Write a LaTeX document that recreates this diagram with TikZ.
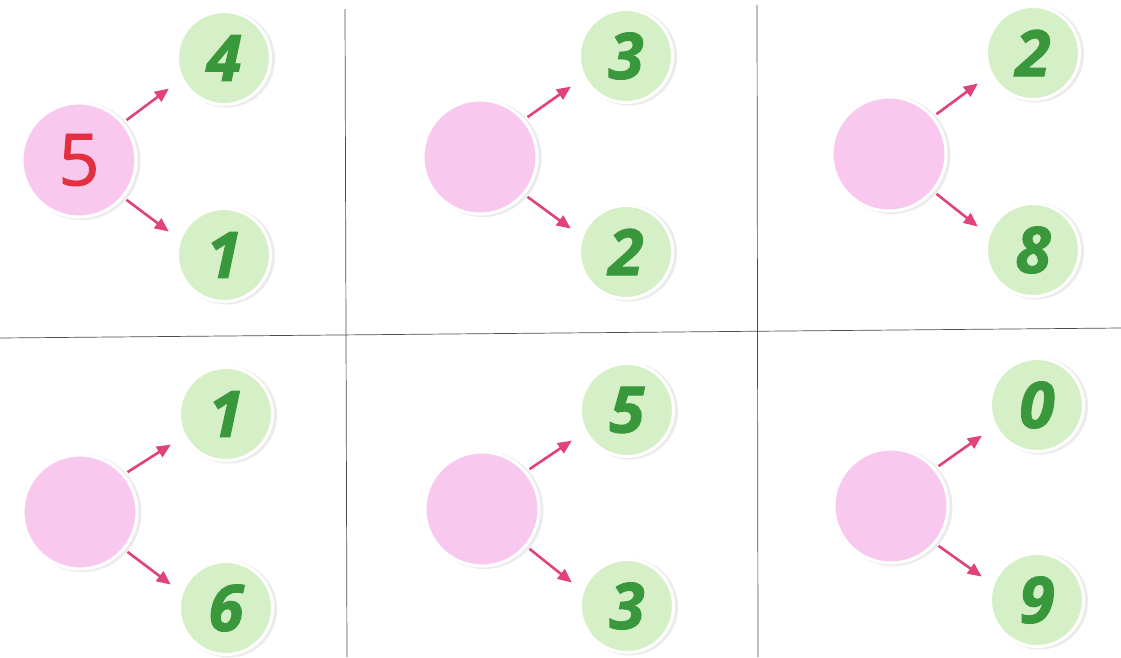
\documentclass[tikz,border=0pt]{standalone}
\usepackage{fontspec}
\setmainfont{Open Sans}
\newfontfamily\heavydigits[FakeBold=1.6]{Open Sans Bold Italic}
\newfontfamily\reddigit[FakeBold=1.2]{Open Sans}
\usetikzlibrary{arrows.meta,calc}
\definecolor{pinkfill}{HTML}{F9C8EE}
\definecolor{greenfill}{HTML}{D5EFC6}
\definecolor{greentext}{HTML}{3A983C}
\definecolor{arrowpink}{HTML}{E0427C}
\definecolor{redtext}{HTML}{E3303F}
\tikzset{
  pinkball/.style={circle, fill=pinkfill, draw=white, line width=3pt, minimum size=114pt, inner sep=0pt},
  greenball/.style={circle, fill=greenfill, draw=white, line width=3pt, minimum size=93pt, inner sep=0pt,
    font=\fontsize{64}{64}\heavydigits, text=greentext},
  shade/.style={circle, fill=black!8, inner sep=0pt},
  arr/.style={draw=arrowpink, line width=2.6pt, -{Triangle[length=14pt,width=12pt]}},
  grid/.style={draw=black!70, line width=0.7pt}
}
\newcommand{\bondpanel}[8]{%
  % #1 id, #2 pink pos, #3 top pos, #4 bottom pos, #5 top digit, #6 bottom digit, #7 pink text
  \node[shade, minimum size=118pt] at ($#2+(2.5,1)$) {};
  \node[shade, minimum size=97pt] at ($#3+(2.5,1)$) {};
  \node[shade, minimum size=97pt] at ($#4+(2.5,1)$) {};
  \node[pinkball, font=\fontsize{72}{72}\reddigit, text=redtext] (p#1) at #2 {#7};
  \node[greenball] (a#1) at #3 {#5};
  \node[greenball] (b#1) at #4 {#6};
  \draw[arr] ($(p#1.center)+(-40:62)$) -- ($(a#1.center)+(151:63)$);
  \draw[arr] ($(p#1.center)+(40:62)$) -- ($(b#1.center)+(203:60)$);
}
\begin{document}
\begin{tikzpicture}[x=1pt,y=-1pt]
\useasboundingbox[fill=white] (0,0) rectangle (1121,657);
\coordinate (h1) at (0,338);
\coordinate (h2) at (1121,328);
\coordinate (v1t) at (345,9);
\coordinate (v1b) at (347,657);
\coordinate (v2t) at (757,5);
\coordinate (v2b) at (758,657);
\draw[grid] (h1) -- (h2);
\draw[grid] (v1t) -- (v1b);
\draw[grid] (v2t) -- (v2b);
\bondpanel{1}{(79,160)}{(224,58)}{(224,255)}{4}{1}{5}{}
\bondpanel{2}{(480,157)}{(626,56)}{(626,252)}{3}{2}{}{}
\bondpanel{3}{(889,154)}{(1033,53)}{(1033,250)}{2}{8}{}{}
\bondpanel{4}{(80,512)}{(226,414)}{(226,608)}{1}{6}{}{}
\bondpanel{5}{(482,509)}{(627,410)}{(627,606)}{5}{3}{}{}
\bondpanel{6}{(891,506)}{(1037,405)}{(1037,600)}{0}{9}{}{}
\end{tikzpicture}
\end{document}
